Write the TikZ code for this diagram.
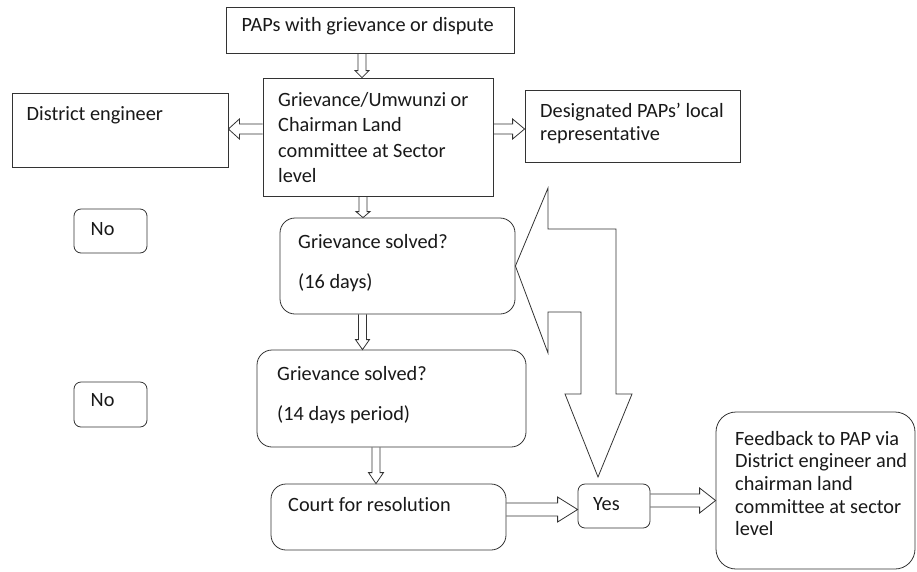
\documentclass[tikz,border=0pt]{standalone}
\usepackage{fontspec}
\setmainfont[Ligatures=NoCommon]{Carlito}
\usetikzlibrary{calc}
\newcommand\harr[5]{%
  \coordinate (hbase) at ($(#2)!#5!(#1)$);
  \draw[arrline] ($(#1)!#3!90:(#2)$) -- ($(hbase)!#3!90:(#2)$) -- ($(hbase)!#4!90:(#2)$) -- (#2)
     -- ($(hbase)!#4!-90:(#2)$) -- ($(hbase)!#3!-90:(#2)$) -- ($(#1)!#3!-90:(#2)$);}
\begin{document}
\begin{tikzpicture}[x=1pt,y=-1pt,
  sq/.style={draw=black!80, line width=0.8pt, inner sep=0pt, fill=white},
  rnd/.style={sq, rounded corners=#1},
  arrline/.style={draw=black!80, line width=0.8pt, line join=miter},
  txt/.style={anchor=base west, inner sep=0pt, font=\fontsize{20.3pt}{24pt}\selectfont, text=black!90}]
\useasboundingbox (0,0) rectangle (917,571);
% boxes
\node[sq, minimum width=288pt, minimum height=46pt] (b1) at (370,30) {};
\node[sq, minimum width=230pt, minimum height=118pt] (b2) at (378,137) {};
\node[sq, minimum width=216pt, minimum height=74pt] (de) at (120,130) {};
\node[sq, minimum width=215pt, minimum height=72pt] (dr) at (632.5,126) {};
\node[rnd=15pt, minimum width=235pt, minimum height=96pt] (b3) at (397.5,266) {};
\node[rnd=15pt, minimum width=269pt, minimum height=97pt] (b4) at (391.5,398.5) {};
\node[rnd=15pt, minimum width=235pt, minimum height=66pt] (ct) at (388.5,517) {};
\node[rnd=7pt, minimum width=72pt, minimum height=44pt] (yes) at (614,506) {};
\node[rnd=20pt, minimum width=199pt, minimum height=157pt] (fb) at (815.5,490.5) {};
\node[rnd=7pt, minimum width=73pt, minimum height=44pt] (no1) at (110.5,231) {};
\node[rnd=7pt, minimum width=73pt, minimum height=45pt] (no2) at (110.5,404.5) {};
% texts
\node[txt] (t1) at (241.5,31.5) {PAPs with grievance or dispute};
\node[txt] (t2a) at (278,106) {Grievance/Umwunzi or};
\node[txt] (t2b) at (278,131.5) {Chairman Land};
\node[txt] (t2c) at (278,157) {committee at Sector};
\node[txt] (t2d) at (278,182.5) {level};
\node[txt] (tde) at (26.5,120.5) {District engineer};
\node[txt] (tdra) at (540,117.3) {Designated PAPs’ local};
\node[txt] (tdrb) at (540,140.7) {representative};
\node[txt] (t3a) at (298,248.3) {Grievance solved?};
\node[txt] (t3b) at (298,288.3) {(16 days)};
\node[txt] (t4a) at (277,380) {Grievance solved?};
\node[txt] (t4b) at (277,420.7) {(14 days period)};
\node[txt] (tct) at (288,511.7) {Court for resolution};
\node[txt] (tyes) at (593,510.7) {Yes};
\node[txt] (tno1) at (90.5,235) {No};
\node[txt] (tno2) at (90.5,406.7) {No};
\node[txt] (tfa) at (735,445) {Feedback to PAP via};
\node[txt] (tfb) at (735,467.7) {District engineer and};
\node[txt] (tfc) at (735,490.4) {chairman land};
\node[txt] (tfd) at (735,513.1) {committee at sector};
\node[txt] (tfe) at (735,535.8) {level};
% arrow end points
\coordinate (a1s) at (362,0 |- b1.south);
\coordinate (a1e) at (362,0 |- b2.north);
\coordinate (a2s) at (0,129 -| b2.west);
\coordinate (a2e) at (0,129 -| de.east);
\coordinate (a3s) at (0,129 -| b2.east);
\coordinate (a3e) at (0,129 -| dr.west);
\coordinate (a4s) at (363,0 |- b2.south);
\coordinate (a4e) at (363,0 |- b3.north);
\coordinate (a5s) at (362.5,0 |- b3.south);
\coordinate (a5e) at (362.5,0 |- b4.north);
\coordinate (a6s) at (376,0 |- b4.south);
\coordinate (a6e) at (376,0 |- ct.north);
\coordinate (a7s) at (0,509.5 -| ct.east);
\coordinate (a7e) at (0,509.5 -| yes.west);
\coordinate (a8s) at (0,500.5 -| yes.east);
\coordinate (a8e) at (0,500.5 -| fb.west);
\harr{a1s}{a1e}{4pt}{7pt}{7pt}
\harr{a2s}{a2e}{5pt}{10pt}{11pt}
\harr{a3s}{a3e}{5pt}{10pt}{12pt}
\harr{a4s}{a4e}{4pt}{7pt}{6pt}
\harr{a5s}{a5e}{4pt}{7pt}{10pt}
\harr{a6s}{a6e}{4pt}{7.5pt}{11pt}
\harr{a7s}{a7e}{6.5pt}{12.5pt}{20pt}
\harr{a8s}{a8e}{6.5pt}{12.5pt}{16pt}
% big bent double arrow
\coordinate (btip) at (b3.east);
\draw[arrline] (btip) -- (548,188) -- (548,229) -- (616,229) -- (616,394) -- (632,394)
  -- (598,477) -- (565,394) -- (581,394) -- (581,312) -- (548,312) -- (548,353) -- cycle;
\end{tikzpicture}
\end{document}
